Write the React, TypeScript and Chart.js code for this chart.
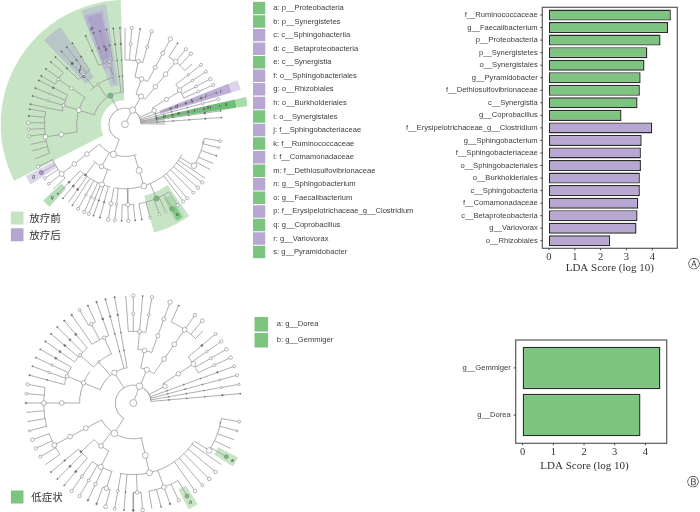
import React, { useEffect, useRef } from "react";
import { Chart, registerables } from "chart.js";

Chart.register(...registerables);

// ---------- LDA bar chart data ----------
const ldaLabelsA = ["f__Ruminococcaceae", "g__Faecalibacterium", "p__Proteobacteria", "p__Synergistetes", "o__Synergistales", "g__Pyramidobacter", "f__Dethiosulfovibrionaceae", "c__Synergistia", "g__Coprobacillus", "f__Erysipelotrichaceae_g__Clostridium", "g__Sphingobacterium", "f__Sphingobacteriaceae", "o__Sphingobacteriales", "o__Burkholderiales", "c__Sphingobacteria", "f__Comamonadaceae", "c__Betaproteobacteria", "g__Variovorax", "o__Rhizobiales"];
const ldaValuesA = [4.72, 4.61, 4.32, 3.81, 3.7, 3.55, 3.52, 3.43, 2.81, 4.0, 3.59, 3.56, 3.56, 3.52, 3.52, 3.46, 3.43, 3.39, 2.37];
const ldaGroupsA = ["g", "g", "g", "g", "g", "g", "g", "g", "g", "p", "p", "p", "p", "p", "p", "p", "p", "p", "p"];
const ldaLabelsB = ["g__Gemmiger", "g__Dorea"];
const ldaValuesB = [4.49, 3.84];
const ldaTicks = [0, 1, 2, 3, 4];

// ---------- legends ----------
const legendA = ["a: p__Proteobacteria", "b: p__Synergistetes", "c: c__Sphingobacteriia", "d: c__Betaproteobacteria", "e: c__Synergistia", "f: o__Sphingobacteriales", "g: o__Rhizobiales", "h: o__Burkholderiales", "i: o__Synergistales", "j: f__Sphingobacteriaceae", "k: f__Ruminococcaceae", "l: f__Comamonadaceae", "m: f__Dethiosulfovibrionaceae", "n: g__Sphingobacterium", "o: g__Faecalibacterium", "p: f__Erysipelotrichaceae_g__Clostridium", "q: g__Coprobacillus", "r: g__Variovorax", "s: g__Pyramidobacter"];
const legendGroupsA = ["g", "g", "p", "p", "g", "p", "p", "p", "g", "p", "g", "p", "g", "p", "g", "p", "g", "p", "g"];
const legendB = ["a: g__Dorea", "b: g__Gemmiger"];
const treatmentLabels = ["放疗前", "放疗后"];
const symptomLabels = ["低症状"];

// ---------- cladograms: angle in degrees clockwise from north, radius in taxonomy levels ----------
type Arc = [number, number, number];
type Spoke = [number, number, number];
type Leaf = [number, number, number, number, number];
type Node = [number, number, number, string?];
type Wedge = [number, number, number, number, string];
type Tag = [number, number, string];

const arcsA: Arc[] = [[1, -159, 88], [2, -73, -3], [2, 20, 39], [2, 59, 65], [2, 159, 232], [3, -99, -56], [3, -46, -14], [3, 12, 28], [3, 197, 221], [4, -78, -63], [4, -46, -33], [4, -24, -11], [4, 0, 16], [4, 52, 66], [4, 118, 189], [4, 193, 213], [4, 214, 224], [5, -111, -81], [5, -60, -50], [5, 33, 48], [5, 100, 122], [5, 147, 170], [5, 174, 182], [5, 228, 244]];
const spokesA: Spoke[] = [[28, 0.2, 1], [-27, 1, 2], [30, 1, 2], [65, 1, 2], [201, 1, 2], [-73, 2, 3], [-34, 2, 3], [20, 2, 3], [39, 2, 5], [59, 2, 4], [163, 2, 4], [232, 2, 5], [209, 2, 3], [-99, 3, 5], [-73, 3, 4], [-56, 3, 5], [-40, 3, 4], [-14, 3, 4], [12, 3, 4], [28, 3, 4], [201, 3, 4], [218, 3, 4], [121, 4, 5], [157, 4, 5], [178, 4, 5]];
const leavesA: Leaf[] = [[0, 4, 6, 0, 0], [4, 4, 6, 1.5, 1.6], [9, 4, 6, 0, 0.6], [16, 4, 6, 1.5, 1.6], [28, 4, 6, 2, 2.2], [33, 5, 6, 0, 0.6], [39, 5, 6, 0, 1.6], [43, 5, 6, 0, 1.7], [48, 5, 5.6, 0, 0], [52, 4, 6, 1.1, 1.5], [57, 4, 6, 1.3, 1.5], [62, 4, 6, 1.4, 1.7], [66, 4, 6, 1.4, 1.6], [71, 1, 6, 0.7, 0.7], [75, 1, 6, 1.2, 1.5], [79, 1, 6, 0.7, 0.7], [82, 1, 6, 1, 0.6], [86, 1, 6, 0.7, 0.6], [100, 5, 6, 0, 1.4], [104, 5, 6, 0, 1.2], [109, 5, 6, 0, 0.6], [114, 5, 6, 0, 0], [118, 5, 6, 0, 0], [124, 4, 6, 0, 0], [127, 4, 6, 0, 1.6], [131, 4, 6, 0, 1.7], [135, 4, 6, 0, 1.5], [140, 4, 6, 0, 1.5], [143, 4, 6, 0, 1.6], [147, 5, 6, 0, 1.6], [151, 5, 6, 0, 0], [155, 5, 6, 0, 1.3], [159, 5, 6, 0, 1.3], [165, 5, 6, 0, 1.3], [170, 5, 6, 0, 0.6], [174, 5, 6, 0, 0.6], [178, 5, 6, 0, 1.7], [182, 5, 6, 0, 0.7], [186, 4, 6, 1.4, 1.5], [190, 4, 6, 2, 1.8], [195, 4, 6, 0.8, 0.7], [199, 4, 6, 0.7, 0.6], [202, 4, 6, 1.2, 1.6], [205, 4, 6, 1.2, 1.6], [209, 4, 6, 1.2, 1.5], [213, 4, 6, 0, 0.6], [216, 4, 6, 1, 0], [220, 4, 6, 1, 0.6], [224, 4, 6, 1, 0.7], [228, 5, 6, 0, 0], [232, 5, 6, 0, 1.4], [236, 5, 6, 0, 1.5], [240, 5, 6, 0, 0], [244, 5, 6, 0, 1.7], [-111, 5, 6, 0, 0], [-106, 5, 6, 0, 0], [-102, 5, 6, 0, 0], [-97, 5, 6, 0, 1.5], [-93, 5, 6, 0, 1.4], [-89, 5, 6, 0, 1.7], [-85, 5, 6, 0, 0.7], [-81, 5, 6, 0, 0.6], [-78, 4, 6, 1.1, 0.7], [-73, 4, 6, 1.1, 0.7], [-68, 4, 6, 1.1, 0.7], [-63, 4, 6, 1, 0.7], [-60, 5, 6, 0, 0.7], [-55, 5, 6, 0, 0.7], [-50, 5, 6, 0, 0.7], [-46, 4, 6, 0.8, 0.7], [-41, 4, 6, 0.8, 0.7], [-37, 4, 6, 0.8, 0.7], [-33, 4, 6, 0.8, 0.7], [-24, 4, 6, 0.8, 0.7], [-19, 4, 6, 0.8, 0.8], [-15, 4, 6, 0.8, 0.7], [-11, 4, 6, 0.8, 0.7], [-7, 2, 6, 0.8, 0.7], [-3, 2, 6, 0.8, 0.7]];
const nodesA: Node[] = [[0, 0, 3.4], [28, 1, 3.2], [-27, 2, 2.6, "g"], [30, 2, 2.6], [65, 2, 2.2], [201, 2, 3.2], [-73, 3, 2.4], [-34, 3, 1.2], [20, 3, 2.4], [39, 3, 2.3], [59, 3, 2.1], [163, 3, 3], [209, 3, 2.3], [232, 3, 2.3], [-99, 4, 2.3], [-73, 4, 1.5], [-56, 4, 1.6], [-40, 4, 1.4], [-14, 4, 1.3], [12, 4, 2], [28, 4, 1.9], [39, 4, 2.4], [58, 4, 2.3], [163, 4, 2.9], [201, 4, 2.5], [218, 4, 1], [232, 4, 2.3], [-99, 5, 2.3], [-56, 5, 1.4], [39, 5, 2.4], [121, 5, 2.8], [157, 5, 2.5, "g"], [178, 5, 2], [232, 5, 2.6], [151, 6, 2.2, "g"], [240, 6, 2.2, "p"], [79, 5, 1, "d"], [79, 4, 1, "d"], [79, 3, 1, "d"], [79, 2, 1, "d"], [71, 5, 1, "d"], [71, 4, 1, "d"], [71, 3, 1, "d"], [-15, 3.8, 1.3], [-15, 3.1, 1.2]];
const wedgesA: Wedge[] = [[-117, -2, 1.5, 7.72, "#c7e4c5"], [-44, -33.5, 3.5, 7.25, "#b9c6c8"], [-21, -9, 2.45, 7.55, "#bdc9cb"], [-21, -11, 3.6, 7.2, "#b7b9d0"], [-19.5, -12, 4.2, 7.05, "#ada3cb"], [-16, -12, 2.6, 4.3, "#b0b6cc"], [145, 165, 4.6, 6.96, "#c7e4c5"], [147.5, 152.5, 5.2, 6.8, "#a9d9aa"], [148.5, 151.5, 6, 6.8, "#80c887"], [237.5, 242.5, 5, 6.95, "#ddd6ea"], [222.5, 227, 5.4, 6.95, "#b6deb7"], [77, 91, 1, 2.5, "#d2d2d2"], [68.6, 73.4, 6.9, 7.5, "#dcd4ea"], [68.6, 73.4, 2.3, 6.9, "#bdaed7"], [77.3, 81.5, 7, 7.7, "#a9dcab"], [77.3, 81.5, 1.9, 7, "#6fc077"]];
const tagsA: Tag[] = [[79, 2.5, "b"], [79, 3.4, "e"], [79, 4.4, "i"], [79, 5.3, "m"], [79, 6.4, "s"], [71, 3.4, "d"], [71, 4.4, "h"], [71, 5.3, "l"], [71, 6.3, "r"], [-41, 3.9, "c"], [-41, 4.3, "f"], [-38, 4.5, "j"], [-41, 5, "n"], [-19, 6.3, "p"], [-14, 4.8, "k"], [240, 6.55, "g"], [225, 6.4, "q"], [150, 6.5, "o"]];

const arcsB: Arc[] = [[1, -148, 85], [2, -68, -10], [2, 12, 35], [2, 57, 62], [2, 165, 242], [3, -90, -54], [3, -48, -24], [3, 5, 20], [3, 207, 227], [4, -75, -60], [4, -55, -40], [4, -35, -20], [4, -4, 10], [4, 50, 65], [4, 123, 191], [4, 197, 215], [4, 220, 230], [5, -105, -80], [5, -30, -25], [5, 25, 44], [5, 100, 123], [5, 150, 170], [5, 175, 180], [5, 195, 200], [5, 235, 250]];
const spokesB: Spoke[] = [[20, 0.2, 1], [-32, 1, 2], [22, 1, 2], [62, 1, 2], [212, 1, 2], [-68, 2, 3], [-40, 2, 3], [12, 2, 3], [35, 2, 5], [57, 2, 4], [167, 2, 4], [242, 2, 5], [217, 2, 3], [-90, 3, 5], [-68, 3, 4], [-48, 3, 4], [-24, 3, 4], [5, 3, 4], [20, 3, 4], [-28, 4, 5], [207, 3, 4], [227, 3, 4], [122, 4, 5], [160, 4, 5], [177.5, 4, 5], [197.5, 4, 5]];
const leavesB: Leaf[] = [[-4, 4, 6, 0, 0], [0, 4, 6, 1.5, 1.7], [5, 4, 6, 0, 0.6], [10, 4, 6, 1.5, 1.7], [20, 4, 6, 2, 2.2], [25, 5, 6, 0, 0.6], [35, 5, 6, 0, 1.7], [40, 5, 6, 0, 1.9], [44, 5, 5.6, 0, 0], [50, 4, 6, 1, 1.5], [55, 4, 6, 1.3, 1.6], [60, 4, 6, 1.5, 1.8], [65, 4, 6, 1.5, 1.8], [70, 1, 6, 0.8, 1.5], [75, 1, 6, 1.1, 1.5], [80, 1, 6, 1.1, 1.2], [85, 1, 6, 0.8, 0.6], [100, 5, 6, 0, 1.5], [105, 5, 6, 0, 1.1], [110, 5, 6, 0, 0], [115, 5, 6, 0, 0], [120, 5, 6, 0, 0], [125, 4, 6, 0, 0], [130, 4, 6, 0, 1.8], [135, 4, 6, 0, 1.8], [140, 4, 6, 0, 1.5], [145, 4, 6, 0, 1.8], [150, 5, 6, 0, 0], [155, 5, 6, 0, 1.6], [160, 5, 6, 0, 0.8], [165, 5, 6, 0, 0.6], [170, 5, 6, 0, 0], [175, 5, 6, 0, 1.8], [180, 5, 6, 0, 1], [185, 4, 6, 0.6, 0.6], [190, 4, 6, 1.5, 1.5], [195, 5, 6, 0, 1.9], [200, 5, 6, 0, 0.8], [205, 4, 6, 1.7, 0.8], [210, 4, 6, 1.5, 1.7], [215, 4, 6, 1.5, 1.7], [220, 4, 6, 1, 0.6], [225, 4, 6, 1, 0.6], [230, 4, 6, 0.8, 0.6], [235, 5, 6, 0, 0], [240, 5, 6, 0, 1.5], [245, 5, 6, 0, 1.7], [250, 5, 6, 0, 1.9], [-105, 5, 6, 0, 1.1], [-100, 5, 6, 0, 0], [-95, 5, 6, 0, 0], [-90, 5, 6, 0, 0.8], [-85, 5, 6, 0, 1.4], [-80, 5, 6, 0, 1.6], [-75, 4, 6, 0.6, 0.7], [-70, 4, 6, 1.2, 0.6], [-65, 4, 6, 1.2, 0.6], [-60, 4, 6, 1, 0.6], [-55, 4, 6, 1, 0.7], [-50, 4, 6, 1, 0.7], [-45, 4, 6, 0.9, 0.7], [-40, 4, 6, 1, 0.7], [-35, 4, 6, 0, 0.8], [-30, 5, 6, 0, 1.4], [-25, 5, 6, 0, 0.7], [-20, 4, 6, 1, 0.8], [-15, 2, 6, 0.8, 0.7], [-10, 2, 6, 0.8, 0.7]];
const nodesB: Node[] = [[0, 0, 3.5], [20, 1, 3.3], [-32, 2, 2.6], [22, 2, 2.6], [62, 2, 2.3], [212, 2, 3.3], [-68, 3, 2.2], [-40, 3, 1.2], [12, 3, 2.4], [35, 3, 2.4], [57, 3, 2.3], [167, 3, 3], [242, 3, 2.4], [217, 3, 2.4], [-90, 4, 2.4], [-68, 4, 1.7], [-48, 4, 1.5], [-24, 4, 1.7], [5, 4, 2], [20, 4, 2], [35, 4, 2.4], [57, 4, 2.5], [167, 4, 3], [242, 4, 2.4], [207, 4, 2.5], [227, 4, 1], [-90, 5, 2.4], [-28, 5, 1.7], [35, 5, 2.4], [122, 5, 2.8], [160, 5, 2.3], [177.5, 5, 1.9], [197.5, 5, 2.3], [242, 5, 2.5], [120, 6, 2, "g"], [150, 6, 2, "g"]];
const wedgesB: Wedge[] = [[117.5, 122.5, 5.35, 6.6, "#c7e4c5"], [147.5, 152.5, 5.45, 6.7, "#c7e4c5"]];
const tagsB: Tag[] = [[120, 6.4, "a"], [150, 6.4, "b"]];

const GREEN = "#7cc47f";
const PURPLE = "#b9a7d3";
const LINE = "#9a9a9a";
const DOT = "#6f6f6f";
const toXY = (a: number, l: number) => ({ x: l * Math.sin((a * Math.PI) / 180), y: l * Math.cos((a * Math.PI) / 180) });
const arcPts = (l: number, a0: number, a1: number) => {
  const n = Math.max(2, Math.ceil((a1 - a0) / 2));
  return Array.from({ length: n + 1 }, (_, i) => toXY(a0 + ((a1 - a0) * i) / n, l));
};
const noScalePadding = (s: any) => {
  s.paddingTop = 0;
  s.paddingBottom = 0;
  s.paddingLeft = 0;
  s.paddingRight = 0;
};

const cladeTags = {
  id: "cladeTags",
  afterDatasetsDraw(chart: any, _a: any, opts: any) {
    const { ctx, scales } = chart;
    ctx.save();
    ctx.font = "italic 5px 'Liberation Sans'";
    ctx.fillStyle = "#333";
    ctx.textAlign = "center";
    ctx.textBaseline = "middle";
    (opts.tags as Tag[]).forEach(([a, l, t]) => {
      const p = toXY(a, l);
      ctx.fillText(t, scales.x.getPixelForValue(p.x), scales.y.getPixelForValue(p.y));
    });
    ctx.restore();
  },
};

const barFrame = {
  id: "barFrame",
  afterDraw(chart: any, _a: any, opts: any) {
    const { ctx, chartArea: c, scales } = chart;
    const top = c.top - opts.t;
    const bottom = c.bottom + opts.b;
    const right = c.right + opts.r;
    ctx.save();
    ctx.strokeStyle = "#5a5a5a";
    ctx.lineWidth = 1.2;
    ctx.strokeRect(c.left, top, right - c.left, bottom - top);
    ctx.strokeStyle = "#333";
    ctx.lineWidth = 0.9;
    ctx.beginPath();
    scales.y.ticks.forEach((_t: any, i: number) => {
      const y = scales.y.getPixelForTick(i);
      ctx.moveTo(c.left - 2, y);
      ctx.lineTo(c.left, y);
    });
    ldaTicks.forEach((v) => {
      const x = scales.x.getPixelForValue(v);
      ctx.moveTo(x, bottom);
      ctx.lineTo(x, bottom + 2);
    });
    ctx.stroke();
    ctx.restore();
  },
};

function makeClade(canvas: HTMLCanvasElement, t: { arcs: Arc[]; spokes: Spoke[]; leaves: Leaf[]; nodes: Node[]; wedges: Wedge[]; tags: Tag[]; cx: number; cy: number; unit: number }) {
  const edges: any[] = [];
  const brk = { x: null, y: null };
  t.arcs.forEach(([l, a0, a1]) => edges.push(...arcPts(l, a0, a1), brk));
  t.spokes.forEach(([a, l0, l1]) => edges.push(toXY(a, l0), toXY(a, l1), brk));
  t.leaves.forEach(([a, l0, l1]) => edges.push(toXY(a, l0), toXY(a, l1), brk));
  const dots: { p: any; r: number; fill: string }[] = [];
  const push = (a: number, l: number, r: number, k?: string) => {
    const fill = k === "g" ? "#6dbf74" : k === "p" ? "#a78fca" : k === "d" || r <= 1 ? DOT : "#fff";
    dots.push({ p: toXY(a, l), r, fill });
  };
  t.leaves.forEach(([a, l0, l1, rMid, rEnd]) => {
    for (let l = l0 + 1; l < l1 - 1; l++) push(a, l, 0.5);
    if (rMid > 0) push(a, l1 - 1, rMid);
    if (rEnd > 0) push(a, l1, rEnd);
  });
  t.nodes.forEach(([a, l, r, k]) => push(a, l, r, k));
  const wedgeSets = t.wedges.map(([a0, a1, l0, l1, color]) => ({
    data: [...arcPts(l0, a0, a1), ...arcPts(l1, a0, a1).reverse()],
    showLine: true,
    fill: "shape",
    backgroundColor: color,
    borderWidth: 0,
    pointRadius: 0,
  }));
  const w = canvas.width;
  const h = canvas.height;
  return new Chart(canvas, {
    type: "scatter",
    data: {
      datasets: [
        {
          data: dots.map((d) => d.p),
          showLine: false,
          pointRadius: dots.map((d) => d.r),
          pointBackgroundColor: dots.map((d) => d.fill),
          pointBorderColor: dots.map((d) => (d.fill === DOT ? DOT : "#868686")),
          pointBorderWidth: 0.6,
        },
        { data: edges, showLine: true, borderColor: LINE, borderWidth: 0.8, pointRadius: 0, spanGaps: false },
        ...wedgeSets.reverse(),
      ] as any,
    },
    options: {
      responsive: false,
      animation: false,
      events: [],
      layout: { padding: 0, autoPadding: false },
      scales: {
        x: { type: "linear", display: false, min: -t.cx / t.unit, max: (w - t.cx) / t.unit },
        y: { type: "linear", display: false, min: -(h - t.cy) / t.unit, max: t.cy / t.unit },
      },
      plugins: { legend: { display: false }, tooltip: { enabled: false }, cladeTags: { tags: t.tags } } as any,
    },
    plugins: [cladeTags],
  } as any);
}

function makeBars(canvas: HTMLCanvasElement, labels: string[], values: number[], colors: string[], g: { yWidth: number; xHeight: number; top: number; right: number; min: number; max: number; pad: number; yPad: number; bar: number; frame: { t: number; b: number; r: number } }) {
  return new Chart(canvas, {
    type: "bar",
    data: {
      labels,
      datasets: [{ data: values, backgroundColor: colors, borderColor: "#2b2b2b", borderWidth: 1.4, borderSkipped: false, barPercentage: g.bar, categoryPercentage: 1, clip: false } as any],
    },
    options: {
      indexAxis: "y",
      responsive: false,
      animation: false,
      events: [],
      layout: { padding: { top: g.top, right: g.right, left: 0, bottom: 0 } },
      scales: {
        x: {
          type: "linear",
          min: g.min,
          max: g.max,
          grid: { display: false, drawTicks: false },
          border: { display: false },
          afterBuildTicks: (s: any) => { s.ticks = ldaTicks.map((value) => ({ value })); },
          afterFit: (s: any) => { s.height = g.xHeight; noScalePadding(s); },
          ticks: { padding: g.pad, maxRotation: 0, color: "#333", font: { family: "'Liberation Serif'", size: 10.5 } },
          title: { display: true, text: "LDA Score (log 10)", color: "#333", padding: 0, font: { family: "'Liberation Serif'", size: 11 } },
        },
        y: {
          type: "category",
          grid: { display: false, drawTicks: false },
          border: { display: false },
          afterFit: (s: any) => { s.width = g.yWidth; noScalePadding(s); },
          ticks: { autoSkip: false, padding: g.yPad, color: "#3c3c3c", font: { family: "'Liberation Sans'", size: 7.6 } },
        },
      },
      plugins: { legend: { display: false }, tooltip: { enabled: false }, barFrame: g.frame } as any,
    },
    plugins: [barFrame],
  } as any);
}

// A key drawn as a one-column bar chart: the swatch is a full bar, the text is the right-hand axis label.
function makeKey(canvas: HTMLCanvasElement, labels: string[], colors: string[], g: { left: number; top: number; bottom: number; swatch: number; pad: number; bar: number; family: string; size: number; color: string }) {
  return new Chart(canvas, {
    type: "bar",
    data: { labels, datasets: [{ data: labels.map(() => 1), backgroundColor: colors, borderWidth: 0, barPercentage: g.bar, categoryPercentage: 1 }] },
    options: {
      indexAxis: "y",
      responsive: false,
      animation: false,
      events: [],
      layout: { padding: { top: g.top, bottom: g.bottom, left: g.left, right: 0 } },
      scales: {
        x: { type: "linear", min: 0, max: 1, display: false },
        y: {
          type: "category",
          position: "right",
          grid: { display: false, drawTicks: false },
          border: { display: false },
          afterFit: (s: any) => { s.width = canvas.width - g.left - g.swatch; noScalePadding(s); },
          ticks: { autoSkip: false, padding: g.pad, color: g.color, font: { family: g.family, size: g.size } },
        },
      },
      plugins: { legend: { display: false }, tooltip: { enabled: false } },
    },
  } as any);
}

const abs = (left: number, top: number, extra: React.CSSProperties = {}): React.CSSProperties => ({ position: "absolute", left, top, ...extra });
const Label = ({ x, y, text, size = 7.6, family = "'Liberation Sans'", color = "#3c3c3c" }: any) => (
  <span style={abs(x, y, { transform: "translateY(-50%)", fontFamily: family, fontSize: size, color, whiteSpace: "nowrap", lineHeight: 1 })}>{text}</span>
);

export default function App() {
  const c1 = useRef<HTMLCanvasElement>(null);
  const c2 = useRef<HTMLCanvasElement>(null);
  const c3 = useRef<HTMLCanvasElement>(null);
  const c4 = useRef<HTMLCanvasElement>(null);
  const k1 = useRef<HTMLCanvasElement>(null);
  const k2 = useRef<HTMLCanvasElement>(null);
  const k3 = useRef<HTMLCanvasElement>(null);
  const k4 = useRef<HTMLCanvasElement>(null);
  useEffect(() => {
    const sans = "'Liberation Sans'";
    const cjk = "'Noto Sans CJK SC'";
    const charts = [
      makeClade(c1.current!, { arcs: arcsA, spokes: spokesA, leaves: leavesA, nodes: nodesA, wedges: wedgesA, tags: tagsA, cx: 125, cy: 124.3, unit: 16.1 }),
      makeClade(c2.current!, { arcs: arcsB, spokes: spokesB, leaves: leavesB, nodes: nodesB, wedges: wedgesB, tags: tagsB, cx: 133.3, cy: 123, unit: 17.9 }),
      makeBars(c3.current!, ldaLabelsA, ldaValuesA, ldaGroupsA.map((k) => (k === "g" ? GREEN : PURPLE)), { yWidth: 142.3, xHeight: 27.95, top: 8.75, right: 12.7, min: -0.258, max: 4.97, pad: 3.4, yPad: 4.6, bar: 0.88, frame: { t: 1.45, b: 1.25, r: 0 } }),
      makeBars(c4.current!, ldaLabelsB, ldaValuesB, [GREEN, GREEN], { yWidth: 115.7, xHeight: 34.3, top: 14.3, right: 36.7, min: -0.228, max: 4.258, pad: 7.7, yPad: 5, bar: 0.9, frame: { t: 4.3, b: 4.6, r: 13.4 } }),
      makeKey(k1.current!, legendA, legendGroupsA.map((k) => (k === "g" ? GREEN : PURPLE)), { left: 0, top: 0.22, bottom: 1.14, swatch: 12.5, pad: 7.8, bar: 0.92, family: sans, size: 7.6, color: "#3c3c3c" }),
      makeKey(k2.current!, legendB, [GREEN, GREEN], { left: 0.3, top: 0.3, bottom: 1.7, swatch: 14, pad: 8.4, bar: 0.9, family: sans, size: 7.6, color: "#3c3c3c" }),
      makeKey(k3.current!, treatmentLabels, ["#c5e3c3", "#b6a5d0"], { left: 0.7, top: 0.65, bottom: 1.95, swatch: 13, pad: 5.6, bar: 0.78, family: cjk, size: 10.5, color: "#333" }),
      makeKey(k4.current!, symptomLabels, [GREEN], { left: 0.7, top: 0.65, bottom: 0.65, swatch: 13, pad: 7.6, bar: 0.78, family: cjk, size: 10.5, color: "#333" }),
    ];
    return () => charts.forEach((c) => c.destroy());
  }, []);
  return (
    <div style={{ position: "absolute", left: 0, top: 0, width: 700, height: 512, overflow: "hidden", background: "#fff", filter: "blur(0.3px)" }}>
      <canvas ref={c1} width={250} height={260} style={abs(0, 0)} />
      <canvas ref={c2} width={250} height={232} style={abs(0, 280)} />
      <canvas ref={c3} width={290} height={275} style={abs(400, 0)} />
      <canvas ref={c4} width={290} height={143} style={abs(400, 330)} />
      <canvas ref={k1} width={190} height={259} style={abs(253, 1)} />
      <canvas ref={k2} width={150} height={34} style={abs(254, 316)} />
      <canvas ref={k3} width={70} height={36} style={abs(10, 209)} />
      <canvas ref={k4} width={70} height={18} style={abs(10, 488)} />
      <Label x={687.5} y={265} text="Ⓐ" size={11.5} family="'DejaVu Sans'" color="#333" />
      <Label x={686.5} y={482.7} text="Ⓑ" size={11.5} family="'DejaVu Sans'" color="#333" />
    </div>
  );
}
